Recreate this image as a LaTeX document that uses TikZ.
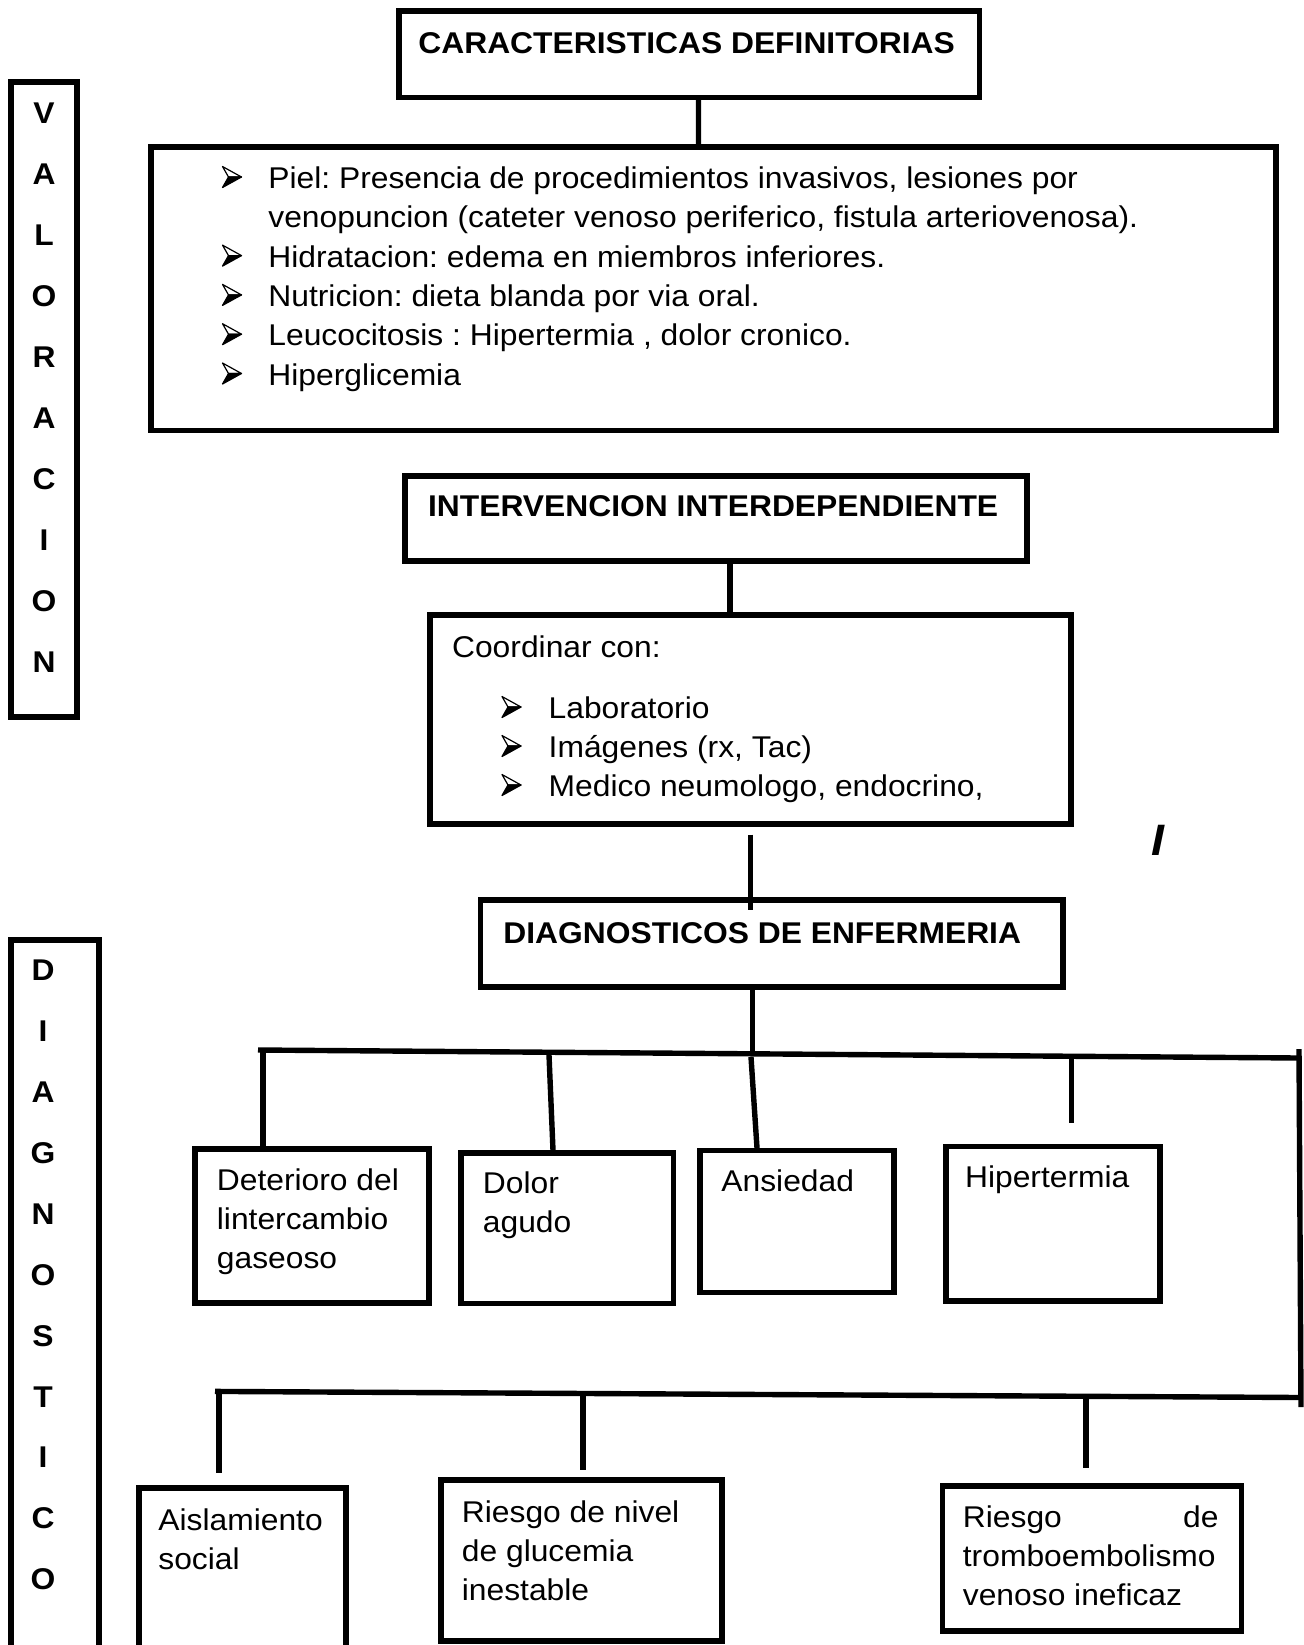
\documentclass[tikz,border=0pt]{standalone}
\usepackage{fontspec}
\setmainfont{Liberation Sans}[FakeStretch=1.06]
\usetikzlibrary{calc}
\frenchspacing

\tikzset{
  caja/.style={draw, line width=2.7pt, inner sep=0pt},
  linea/.style={line width=2.7pt},
  texto/.style={inner sep=0pt, anchor=base west, font=\fontsize{15}{19.5}\selectfont},
  titulo/.style={inner sep=0pt, anchor=base west, font=\fontsize{15}{19.5}\selectfont\bfseries},
  flecha/.pic={
    \draw[line width=0.6pt, line join=round] (0,21) -- (19,10.5) -- (6,10.5) -- cycle;
    \filldraw[line width=0.6pt, line join=round] (6,10.5) -- (19,10.5) -- (0,0) -- cycle;
  },
}

\begin{document}
\begin{tikzpicture}[x=0.5pt,y=0.5pt,yscale=-1,xscale=1]
    \useasboundingbox (0,0) rectangle (1304,1645);
    \clip (0,0) rectangle (1304,1645);

    %Shape: Rectangle (titulos)
    \node[caja, minimum width=290.3pt, minimum height=43.25pt] (caract) at (689.3,54.25) {};
    \node[caja, minimum width=311pt, minimum height=42.5pt] (interv) at (716,518.5) {};
    \node[caja, minimum width=291.2pt, minimum height=43.5pt] (diagn) at (771.8,943.5) {};
    %Shape: Rectangle (contenido)
    \node[caja, minimum width=562.5pt, minimum height=141.75pt] (listado) at (713.5,288.75) {};
    \node[caja, minimum width=320.5pt, minimum height=104.5pt] (coordinar) at (750.5,719.5) {};
    %Shape: Rectangle (columnas laterales)
    \node[caja, minimum width=33pt, minimum height=317.5pt] (valor) at (44,399.5) {};
    \node[caja, minimum width=44pt, minimum height=380pt] (diagv) at (55,1320) {};
    %Shape: Rectangle (diagnosticos)
    \node[caja, minimum width=117pt, minimum height=77pt] (deterioro) at (312,1226) {};
    \node[caja, minimum width=106.3pt, minimum height=75.2pt] (dolor) at (567.3,1228.2) {};
    \node[caja, minimum width=97pt, minimum height=71pt] (ansiedad) at (797,1221.65) {};
    \node[caja, minimum width=107pt, minimum height=77.15pt] (hipert) at (1053,1223.65) {};
    \node[caja, minimum width=103.5pt, minimum height=106pt] (aislam) at (242.5,1594) {};
    \node[caja, minimum width=140.5pt, minimum height=80.5pt] (glucemia) at (581.3,1560.5) {};
    \node[caja, minimum width=149.5pt, minimum height=72.5pt] (trombo) at (1092,1558.5) {};

    %Straight Lines
    \draw[linea] ($(caract.south)+(9.2,0)$) -- ($(listado.north)+(-15,0)$);
    \draw[linea] ($(interv.south)+(14,0)$) -- ($(coordinar.north)+(-20.5,0)$);
    \draw[linea] ($(coordinar.south)+(0,8)$) -- ($(diagn.north)+(-21.3,13)$);

    % ramas
    \coordinate (b1a) at (258,1050);
    \coordinate (b1b) at (1299,1058);
    \coordinate (rtop) at (1299,1049);
    \coordinate (rbot) at (1301,1407);
    \coordinate (b2a) at (215,1391.4);
    \coordinate (b2b) at (1301,1397.5);
    \draw[linea] (b1a) -- (b1b);
    \draw[linea] (rtop) -- (rbot);
    \draw[linea] (b2a) -- (b2b);

    \coordinate (t0) at (752.6,1052);
    \coordinate (t1) at (263,1052);
    \coordinate (t2) at (549,1055);
    \coordinate (t3) at (751,1057);
    \coordinate (t4) at (1071.5,1059);
    \coordinate (u1) at (219,1392);
    \coordinate (u2) at (583,1395);
    \coordinate (u3) at (1086,1398);
    \draw[linea] (t0 |- diagn.south) -- (t0);
    \draw[linea] (t1) -- (t1 |- deterioro.north);
    \draw[linea] (t2) -- ($(t2 |- dolor.north)+(4,0)$);
    \draw[linea] (t3) -- ($(t3 |- ansiedad.north)+(6,0)$);
    \draw[linea] (t4) -- ($(t4 |- hipert.north)+(0,-21)$);
    \draw[linea] (u1) -- ($(u1 |- aislam.north)+(0,-12)$);
    \draw[linea] (u2) -- ($(u2 |- glucemia.north)+(0,-7)$);
    \draw[linea] (u3) -- ($(u3 |- trombo.north)+(0,-15)$);

    % Text Node
    \node[titulo] (tcaract) at (418,53.3) {CARACTERISTICAS DEFINITORIAS};
    \node[titulo] (tinterv) at (427.7,516.7) {INTERVENCION INTERDEPENDIENTE};
    \node[titulo] (tdiagn) at (503,943) {DIAGNOSTICOS DE ENFERMERIA};
    % Text Node
    \foreach \l [count=\i] in {V,A,L,O,R,A,C,I,O,N}
        \node[titulo, anchor=base] (val\i) at (44,{123.3+61*(\i-1)}) {\l};
    \foreach \l [count=\i] in {D,I,A,G,N,O,S,T,I,C,O}
        \node[titulo, anchor=base] (dia\i) at (43,{980.7+60.9*(\i-1)}) {\l};
    % Text Node
    \foreach \t [count=\i] in {{Piel: Presencia de procedimientos invasivos, lesiones por},
        {venopuncion (cateter venoso periferico, fistula arteriovenosa).},
        {Hidratacion: edema en miembros inferiores.},
        {Nutricion: dieta blanda por via oral.},
        {Leucocitosis : Hipertermia , dolor cronico.},
        {Hiperglicemia}}
        \node[texto] (car\i) at (268,{188.5+39.3*(\i-1)}) {\t};
    \foreach \i in {1,3,4,5,6}
        \pic at (222.5,{187.5+39.3*(\i-1)}) {flecha};
    % Text Node
    \node[texto] (coor0) at (451.7,657.3) {Coordinar con:};
    \foreach \t [count=\i] in {Laboratorio, {Imágenes (rx, Tac)}, {Medico neumologo, endocrino,}} {
        \pic at (502,{717.5+39*(\i-1)}) {flecha};
        \node[texto] (coor\i) at (548.3,{718.3+39*(\i-1)}) {\t};
    }
    % Text Node
    \node[inner sep=0pt, anchor=base, font=\fontsize{22}{24}\selectfont\bfseries\itshape] (marca) at (1158,855) {I};
    % Text Node
    \foreach \t [count=\i] in {Deterioro del, lintercambio, gaseoso}
        \node[texto] (det\i) at (216.5,{1190.5+39*(\i-1)}) {\t};
    \foreach \t [count=\i] in {Dolor, agudo}
        \node[texto] (dol\i) at (482.5,{1193.5+39*(\i-1)}) {\t};
    \node[texto] (ans1) at (721,1191.3) {Ansiedad};
    \node[texto] (hip1) at (964.7,1187.2) {Hipertermia};
    \foreach \t [count=\i] in {Aislamiento, social}
        \node[texto] (ais\i) at (158,{1530.6+39*(\i-1)}) {\t};
    \foreach \t [count=\i] in {Riesgo de nivel, de glucemia, inestable}
        \node[texto] (glu\i) at (461.5,{1522.4+39*(\i-1)}) {\t};
    \node[texto] (tro1) at (962.5,1527.8) {Riesgo};
    \node[texto, anchor=base east] (tro1b) at (1219,1527.8) {de};
    \foreach \t [count=\i from 2] in {tromboembolismo, venoso ineficaz}
        \node[texto] (tro\i) at (962.5,{1527.8+38.6*(\i-1)}) {\t};

\end{tikzpicture}
\end{document}
